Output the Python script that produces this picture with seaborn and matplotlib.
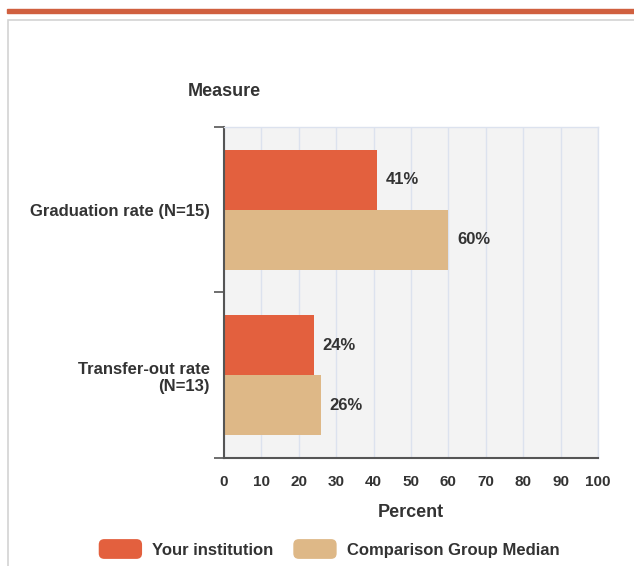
import matplotlib
matplotlib.use("Agg")
import matplotlib.pyplot as plt
import seaborn as sns
import pandas as pd
from matplotlib.patches import Rectangle, FancyBboxPatch
from matplotlib.legend_handler import HandlerPatch
import matplotlib.patches as mpatches

measures = ["Graduation rate (N=15)", "Transfer-out rate\n(N=13)"]
series = ["Your institution", "Comparison Group Median"]
your_values = [41, 24]
comparison_values = [60, 26]
x_ticks = [0, 10, 20, 30, 40, 50, 60, 70, 80, 90, 100]
colors = ["#E3603E", "#DEB887"]

rows = []
for m, v in zip(measures, your_values):
    rows.append({"Measure": m, "Series": series[0], "Percent": v})
for m, v in zip(measures, comparison_values):
    rows.append({"Measure": m, "Series": series[1], "Percent": v})
df = pd.DataFrame(rows)

sns.set_style("white")
plt.rcParams["font.family"] = ["Liberation Sans", "DejaVu Sans"]
txt = "#333333"

fig = plt.figure(figsize=(6.34, 5.66), dpi=100)
ax = fig.add_axes([224/634, 1-458/566, (598-224)/634, (458-127)/566])

sns.barplot(data=df, y="Measure", x="Percent", hue="Series", orient="h",
            palette=colors, width=0.723, ax=ax, saturation=1, legend=False,
            edgecolor="none", linewidth=0)

ax.set_facecolor("#F3F3F3")
ax.set_xlim(0, 100)
ax.set_ylim(1.5, -0.5)
ax.set_xticks(x_ticks)
ax.set_xticklabels([str(t) for t in x_ticks], fontsize=11, fontweight="bold", color=txt)
ax.grid(axis="x", color="#DCE2EE", linewidth=1)
ax.set_axisbelow(True)
ax.tick_params(axis="x", length=0, pad=12)
ax.set_yticks([0, 1])
ax.set_yticklabels(measures, fontsize=12, fontweight="bold", color=txt)
ax.set_yticks([-0.5, 0.5, 1.5], minor=True)
ax.tick_params(axis="y", which="major", length=0, pad=10)
ax.tick_params(axis="y", which="minor", length=7, width=1.2, color="#555555", left=True)
for lbl in ax.get_yticklabels():
    lbl.set_horizontalalignment("right")
    lbl.set_multialignment("right")

for s in ["top", "right"]:
    ax.spines[s].set_visible(True)
    ax.spines[s].set_color("#DCE2EE")
    ax.spines[s].set_linewidth(1)
ax.spines["left"].set_color("#555555")
ax.spines["left"].set_linewidth(1.5)
ax.spines["bottom"].set_color("#555555")
ax.spines["bottom"].set_linewidth(1.5)

ax.set_xlabel("Percent", fontsize=13, fontweight="bold", color=txt, labelpad=11)
ax.set_ylabel("")

for cont in ax.containers:
    for bar in cont:
        w = bar.get_width()
        ax.text(w + 2.3, bar.get_y() + bar.get_height()/2, f"{w:.0f}%",
                va="center", ha="left", fontsize=12, fontweight="bold", color=txt)

fig.text(224/634, 1-92/566, "Measure", ha="center", va="center",
         fontsize=13, fontweight="bold", color=txt)

# decorative frame and top band
fig.patches.append(Rectangle((7/634, 1-13/566), 1, 4/566, transform=fig.transFigure,
                             color="#D0603F", zorder=0))
fig.patches.append(Rectangle((8/634, -0.1), 1, 1.1 - 20/566, transform=fig.transFigure,
                             facecolor="none", edgecolor="#D3D3D3", linewidth=1.2, zorder=0))


class RoundHandler(HandlerPatch):
    def create_artists(self, legend, orig_handle, xdescent, ydescent, width, height, fontsize, trans):
        p = FancyBboxPatch((-xdescent + 2, -ydescent + 2), width - 4, height - 4,
                           boxstyle="round,pad=2,rounding_size=4",
                           facecolor=orig_handle.get_facecolor(), edgecolor="none",
                           transform=trans)
        return [p]

handles = [mpatches.Patch(facecolor=c, label=s) for c, s in zip(colors, series)]
fig.legend(handles=handles, loc="center", bbox_to_anchor=(329/634, 1-549/566), ncol=2,
           frameon=False, handlelength=2.6, handleheight=1.45, handletextpad=0.6,
           columnspacing=1.2, prop={"weight": "bold", "size": 12},
           labelcolor=txt, handler_map={mpatches.Patch: RoundHandler()})

fig.savefig("out.png", dpi=100)
